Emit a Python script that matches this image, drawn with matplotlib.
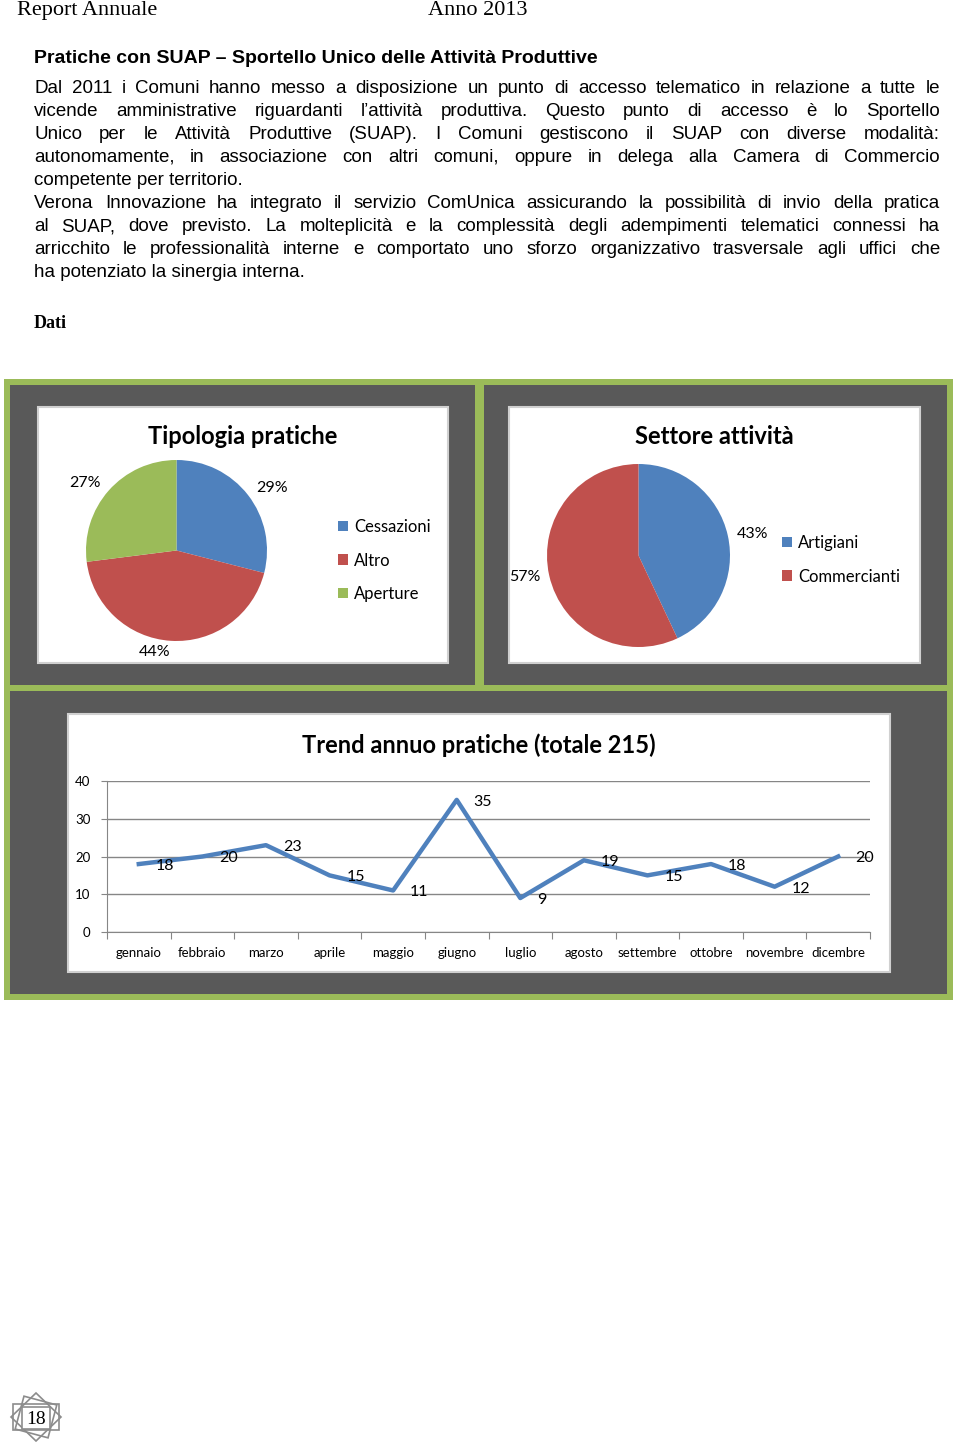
import matplotlib
matplotlib.use("Agg")
import matplotlib.pyplot as plt
from matplotlib.patches import Rectangle, Polygon
import numpy as np

W, H, DPI = 960, 1442, 100

# ---------------- data ----------------
header_left = "Report Annuale"
header_right = "Anno 2013"
section_title = "Pratiche con SUAP – Sportello Unico delle Attività Produttive"
paragraph1 = [
    "Dal 2011 i Comuni  hanno messo a disposizione un punto di accesso telematico in relazione a tutte le",
    "vicende amministrative riguardanti l’attività produttiva. Questo punto di accesso è lo Sportello",
    "Unico per le Attività Produttive (SUAP). I Comuni gestiscono il SUAP con diverse modalità:",
    "autonomamente, in associazione con altri comuni, oppure in delega alla Camera di Commercio",
    "competente per territorio.",
]
paragraph2 = [
    "Verona Innovazione ha integrato il servizio ComUnica assicurando la possibilità di invio della pratica",
    "al SUAP, dove previsto. La molteplicità e la complessità degli adempimenti telematici connessi ha",
    "arricchito le professionalità interne e comportato uno sforzo organizzativo trasversale agli uffici che",
    "ha potenziato la sinergia interna.",
]
dati_label = "Dati"
page_number = "18"

tip_title = "Tipologia pratiche"
tip_labels = ["Cessazioni", "Altro", "Aperture"]
tip_values = [29, 44, 27]

set_title = "Settore attività"
set_labels = ["Artigiani", "Commercianti"]
set_values = [43, 57]

trend_title = "Trend annuo pratiche (totale 215)"
months = ["gennaio", "febbraio", "marzo", "aprile", "maggio", "giugno",
          "luglio", "agosto", "settembre", "ottobre", "novembre", "dicembre"]
trend_values = [18, 20, 23, 15, 11, 35, 9, 19, 15, 18, 12, 20]
y_ticks = [0, 10, 20, 30, 40]

# ---------------- style ----------------
BLUE, RED, GREEN = "#4F81BD", "#C0504D", "#9BBB59"
DARK = "#595959"
GRID = "#868686"
CAL = ["Lato", "DejaVu Sans"]
SANS = ["Liberation Sans", "DejaVu Sans"]
SERIF = ["Liberation Serif", "DejaVu Serif"]

fig = plt.figure(figsize=(W / DPI, H / DPI), dpi=DPI)
fig.patch.set_facecolor("white")
bg = fig.add_axes([0, 0, 1, 1])
bg.set_xlim(0, W)
bg.set_ylim(H, 0)
bg.axis("off")
renderer = fig.canvas.get_renderer()


def px_axes(x0, y0, x1, y1):
    return fig.add_axes([x0 / W, 1 - y1 / H, (x1 - x0) / W, (y1 - y0) / H])


def rect(x0, y0, x1, y1, **kw):
    bg.add_patch(Rectangle((x0, y0), x1 - x0, y1 - y0, **kw))


# ---------------- header & text ----------------
bg.text(17, 15, header_left, family=SERIF, fontsize=16, va="baseline", ha="left")
bg.text(428, 15, header_right, family=SERIF, fontsize=16, va="baseline", ha="left")
bg.text(34, 63, section_title, family=SANS, fontsize=14, fontweight="bold",
        va="baseline", ha="left")

TXT = dict(family=SANS, fontsize=13.5, va="baseline", ha="left")


def justify(line, y, x0, x1):
    words = line.split()
    texts = [bg.text(0, y, w, **TXT) for w in words]
    widths = [t.get_window_extent(renderer).width for t in texts]
    gap = (x1 - x0 - sum(widths)) / (len(words) - 1)
    x = x0
    for t, w in zip(texts, widths):
        t.set_x(x)
        x += w + gap


y = 93
for para in (paragraph1, paragraph2):
    for i, line in enumerate(para):
        if i < len(para) - 1:
            justify(line, y, 34, 940)
        else:
            bg.text(34, y, line, **TXT)
        y += 23

bg.text(34, 328, dati_label, family=SERIF, fontsize=13, fontweight="bold",
        va="baseline", ha="left")

# ---------------- panels ----------------
rect(4, 379, 953, 1000, facecolor=GREEN, edgecolor="none")
rect(10, 385, 475, 685, facecolor=DARK, edgecolor="none")
rect(484, 385, 947, 685, facecolor=DARK, edgecolor="none")
rect(10, 691, 947, 994, facecolor=DARK, edgecolor="none")
for (x0, y0, x1, y1) in [(38, 407, 448, 663), (509, 407, 920, 663), (68, 714, 890, 972)]:
    rect(x0, y0, x1, y1, facecolor="white", edgecolor="#D0D0D0", linewidth=1.5)

LEG = dict(frameon=False, handlelength=0.6, handleheight=0.6, handletextpad=0.35,
           labelspacing=1.05, prop=dict(family=CAL, size=12), borderpad=0,
           borderaxespad=0, loc="upper left", bbox_transform=fig.transFigure)

# ---------------- pie 1 ----------------
bg.text(243, 437, tip_title, family=CAL, fontsize=17, fontweight="bold",
        ha="center", va="center")
ax1 = px_axes(86, 460, 267, 641)
w1, t1 = ax1.pie(tip_values, colors=[BLUE, RED, GREEN], startangle=90,
                 counterclock=False, labels=[f"{v}%" for v in tip_values],
                 labeldistance=1.12, wedgeprops=dict(linewidth=0),
                 textprops=dict(family=CAL, fontsize=11.5))
ax1.set_xlim(-1, 1)
ax1.set_ylim(-1, 1)
ax1.set_aspect("equal")
ax1.legend(w1, tip_labels, bbox_to_anchor=(338 / W, 1 - 519 / H), **LEG)

# ---------------- pie 2 ----------------
bg.text(714, 437, set_title, family=CAL, fontsize=17, fontweight="bold",
        ha="center", va="center")
ax2 = px_axes(547, 464, 730, 647)
w2, t2 = ax2.pie(set_values, colors=[BLUE, RED], startangle=90,
                 counterclock=False, labels=[f"{v}%" for v in set_values],
                 labeldistance=1.1, wedgeprops=dict(linewidth=0),
                 textprops=dict(family=CAL, fontsize=11.5))
ax2.set_xlim(-1, 1)
ax2.set_ylim(-1, 1)
ax2.set_aspect("equal")
ax2.legend(w2, set_labels, bbox_to_anchor=(782 / W, 1 - 535 / H), **LEG)

# ---------------- line chart ----------------
bg.text(479, 745, trend_title, family=CAL, fontsize=17, fontweight="bold",
        ha="center", va="center")
ax3 = px_axes(107, 781, 870, 932)
xs = np.arange(len(months)) + 0.5
ax3.plot(xs, trend_values, color=BLUE, lw=3.2, zorder=3, clip_on=False)
for xi, v in zip(xs, trend_values):
    ax3.annotate(str(v), (xi, v), xytext=(17, -2), textcoords="offset pixels",
                 ha="left", va="center", family=CAL, fontsize=11.5, zorder=4)
ax3.set_xlim(0, len(months))
ax3.set_ylim(0, 40)
ax3.set_yticks(y_ticks)
ax3.set_yticklabels([str(v) for v in y_ticks], family=CAL, fontsize=9.5)
ax3.yaxis.grid(True, color=GRID, lw=1)
ax3.set_axisbelow(True)
ax3.set_xticks(np.arange(len(months) + 1))
ax3.set_xticklabels([])
ax3.set_xticks(xs, minor=True)
ax3.set_xticklabels(months, minor=True, family=CAL, fontsize=9.5)
ax3.tick_params(axis="x", which="major", length=5, color=GRID, direction="out")
ax3.tick_params(axis="x", which="minor", length=0, pad=11)
ax3.tick_params(axis="y", length=4, color=GRID, pad=8)
for s in ("top", "right"):
    ax3.spines[s].set_visible(False)
for s in ("left", "bottom"):
    ax3.spines[s].set_color(GRID)
ax3.patch.set_alpha(0)

# ---------------- page logo ----------------
LOGO = "#8C8C8C"
bg.add_patch(Polygon([(36, 1393), (61, 1417), (36, 1441), (11, 1417)], closed=True,
                     fill=False, edgecolor=LOGO, lw=1.2))
ang = np.deg2rad(15)
sq = np.array([(-17, -17), (17, -17), (17, 17), (-17, 17)])
rot = sq @ np.array([[np.cos(ang), np.sin(ang)], [-np.sin(ang), np.cos(ang)]])
bg.add_patch(Polygon(rot + np.array([36, 1417]), closed=True, fill=False,
                     edgecolor=LOGO, lw=1.2))
rect(13, 1404, 59, 1430, facecolor="none", edgecolor=LOGO, lw=1.2)
rect(22, 1407, 50, 1429, facecolor="white", edgecolor=LOGO, lw=1.2)
bg.text(36, 1419, page_number, family=SERIF, fontsize=14, ha="center", va="center")

fig.savefig("out.png", dpi=DPI)
